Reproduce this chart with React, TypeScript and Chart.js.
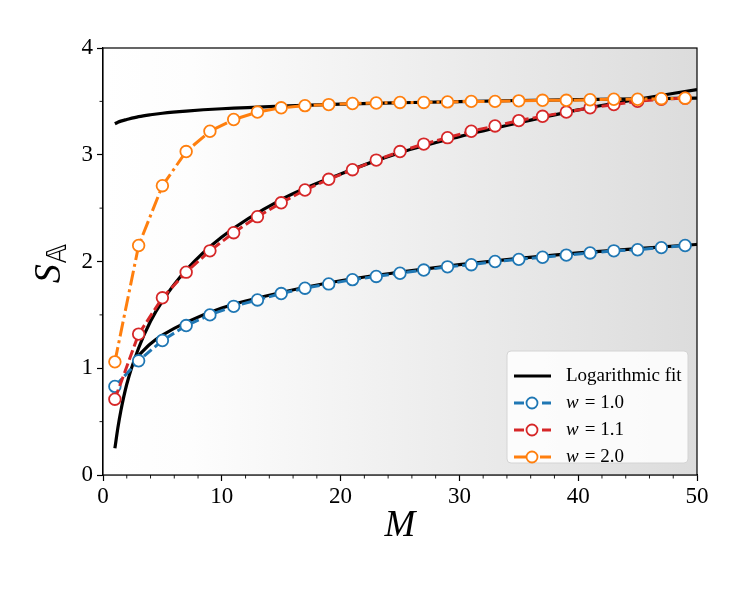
import React, { useEffect, useRef } from "react";
import { Chart, registerables } from "chart.js";

Chart.register(...registerables);

// ---- data ----
const sampleM = [1, 3, 5, 7, 9, 11, 13, 15, 17, 19, 21, 23, 25, 27, 29, 31, 33, 35, 37, 39, 41, 43, 45, 47, 49];
const w10 = [0.83, 1.07, 1.26, 1.4, 1.5, 1.58, 1.64, 1.7, 1.75, 1.79, 1.83, 1.86, 1.89, 1.92, 1.95, 1.97, 2.0, 2.02, 2.04, 2.06, 2.08, 2.1, 2.11, 2.13, 2.15];
const w11 = [0.71, 1.32, 1.66, 1.9, 2.1, 2.27, 2.42, 2.55, 2.67, 2.77, 2.86, 2.95, 3.03, 3.1, 3.16, 3.22, 3.27, 3.32, 3.36, 3.4, 3.44, 3.47, 3.5, 3.52, 3.53];
const w20 = [1.06, 2.15, 2.71, 3.03, 3.22, 3.33, 3.4, 3.44, 3.46, 3.47, 3.48, 3.485, 3.49, 3.49, 3.495, 3.5, 3.5, 3.505, 3.51, 3.51, 3.515, 3.52, 3.52, 3.525, 3.53];

// logarithmic fit curves, read at a few M positions
const fitM = [1, 1.25, 1.5, 2, 3, 4, 5, 7, 10, 15, 20, 25, 30, 35, 40, 45, 50];
const fit11 = [0.25, 0.44, 0.6, 0.85, 1.19, 1.44, 1.63, 1.92, 2.23, 2.58, 2.82, 3.02, 3.17, 3.3, 3.42, 3.52, 3.61];
const fit20 = [3.29, 3.304, 3.315, 3.33, 3.357, 3.375, 3.389, 3.409, 3.431, 3.456, 3.474, 3.487, 3.498, 3.508, 3.516, 3.523, 3.53];
const fit10M = [3, 4, 5, 7, 10, 15, 20, 25, 30, 35, 40, 45, 50];
const fit10 = [1.12, 1.23, 1.31, 1.43, 1.565, 1.71, 1.82, 1.9, 1.97, 2.03, 2.08, 2.12, 2.16];

const xTicks = [0, 10, 20, 30, 40, 50];
const yTicks = [0, 1, 2, 3, 4];
const legendLabels = ["Logarithmic fit", "1.0", "1.1", "2.0"];

const BLUE = "#1f77b4";
const RED = "#d62728";
const ORANGE = "#ff7f0e";
const SERIF = "'Liberation Serif', 'DejaVu Serif', serif";
const DASH = [10, 4];
const DASHDOT = [15, 4, 3, 4];

const pts = (xs: number[], ys: number[]) => xs.map((x, i) => ({ x, y: ys[i] }));

const decorPlugin = {
  id: "decor",
  beforeDatasetsDraw(chart: any) {
    const { ctx, chartArea: a } = chart;
    ctx.save();
    const g = ctx.createLinearGradient(a.left, 0, a.right, 0);
    g.addColorStop(0, "#ffffff");
    g.addColorStop(0.15, "#fdfdfd");
    g.addColorStop(1, "#dcdcdc");
    ctx.fillStyle = g;
    ctx.fillRect(a.left, a.top, a.right - a.left, a.bottom - a.top);
    ctx.restore();
  },
  afterDraw(chart: any) {
    const { ctx, chartArea: a, scales } = chart;
    const xs = scales.x;
    const ys = scales.y;
    ctx.save();
    // frame
    ctx.strokeStyle = "#000";
    ctx.lineWidth = 1.2;
    ctx.strokeRect(a.left, a.top, a.right - a.left, a.bottom - a.top);
    // minor ticks
    ctx.lineWidth = 0.9;
    ctx.beginPath();
    for (let v = 0; v <= 50; v += 2) {
      if (v % 10 === 0) continue;
      const px = xs.getPixelForValue(v);
      ctx.moveTo(px, a.bottom);
      ctx.lineTo(px, a.bottom + 3.5);
    }
    for (let v = 0.5; v < 4; v += 1) {
      const py = ys.getPixelForValue(v);
      ctx.moveTo(a.left, py);
      ctx.lineTo(a.left - 3.5, py);
    }
    ctx.stroke();

    // axis titles
    ctx.fillStyle = "#000";
    ctx.font = `italic 37px ${SERIF}`;
    ctx.textAlign = "center";
    ctx.textBaseline = "middle";
    ctx.fillText("M", (a.left + a.right) / 2, 526);

    ctx.save();
    ctx.translate(48, (a.top + a.bottom) / 2 + 2);
    ctx.rotate(-Math.PI / 2);
    ctx.textAlign = "left";
    ctx.textBaseline = "alphabetic";
    ctx.font = `italic 38px ${SERIF}`;
    const sW = ctx.measureText("S").width;
    const sub = "\u{1D538}";
    ctx.font = `26px 'DejaVu Sans', ${SERIF}`;
    const subW = ctx.measureText(sub).width;
    const total = sW + 1 + subW;
    ctx.font = `italic 38px ${SERIF}`;
    ctx.fillText("S", -total / 2, 12);
    ctx.font = `26px 'DejaVu Sans', ${SERIF}`;
    ctx.fillText(sub, -total / 2 + sW + 1, 18);
    ctx.restore();

    // legend
    const bx = 507, by = 351, bw = 181, bh = 112;
    ctx.beginPath();
    const r = 4;
    ctx.moveTo(bx + r, by);
    ctx.arcTo(bx + bw, by, bx + bw, by + bh, r);
    ctx.arcTo(bx + bw, by + bh, bx, by + bh, r);
    ctx.arcTo(bx, by + bh, bx, by, r);
    ctx.arcTo(bx, by, bx + bw, by, r);
    ctx.closePath();
    ctx.fillStyle = "rgba(255,255,255,0.85)";
    ctx.fill();
    ctx.strokeStyle = "#d4d4d4";
    ctx.lineWidth = 1;
    ctx.stroke();

    const rows = [
      { color: "#000", dash: [] as number[], marker: false, label: legendLabels[0] },
      { color: BLUE, dash: DASH, marker: true, label: legendLabels[1] },
      { color: RED, dash: DASH, marker: true, label: legendLabels[2] },
      { color: ORANGE, dash: DASHDOT, marker: true, label: legendLabels[3] },
    ];
    rows.forEach((row, i) => {
      const y = 376 + i * 27;
      ctx.save();
      ctx.strokeStyle = row.color;
      ctx.lineWidth = 3;
      ctx.setLineDash(row.dash);
      ctx.beginPath();
      ctx.moveTo(514, y);
      ctx.lineTo(551, y);
      ctx.stroke();
      ctx.setLineDash([]);
      if (row.marker) {
        ctx.beginPath();
        ctx.arc(532, y, 5.5, 0, Math.PI * 2);
        ctx.fillStyle = "#fff";
        ctx.fill();
        ctx.lineWidth = 1.8;
        ctx.stroke();
      }
      ctx.fillStyle = "#000";
      ctx.textBaseline = "middle";
      ctx.textAlign = "left";
      if (!row.marker) {
        ctx.font = `19px ${SERIF}`;
        ctx.fillText(row.label, 566, y);
      } else {
        ctx.font = `italic 19px ${SERIF}`;
        ctx.fillText("w", 566, y);
        const ww = ctx.measureText("w").width;
        ctx.font = `19px ${SERIF}`;
        ctx.fillText("= " + row.label, 566 + ww + 6, y);
      }
      ctx.restore();
    });
    ctx.restore();
  },
};

export default function App() {
  const ref = useRef<HTMLCanvasElement | null>(null);
  useEffect(() => {
    if (!ref.current) return;
    const fitStyle = {
      showLine: true,
      borderColor: "#000",
      backgroundColor: "#000",
      borderWidth: 3.2,
      pointRadius: 0,
      pointHoverRadius: 0,
      cubicInterpolationMode: "monotone" as const,
      order: 10,
    };
    const dataStyle = (color: string, dash: number[], order: number) => ({
      showLine: true,
      borderColor: color,
      borderWidth: 3,
      borderDash: dash,
      pointRadius: 5.8,
      pointBorderWidth: 1.8,
      pointBackgroundColor: "#fff",
      pointBorderColor: color,
      order,
    });
    const chart = new Chart(ref.current, {
      type: "scatter",
      data: {
        datasets: [
          { ...fitStyle, label: "fit11", data: pts(fitM, fit11) },
          { ...fitStyle, label: "fit10", data: pts(fit10M, fit10) },
          { ...fitStyle, label: "fit20", data: pts(fitM, fit20) },
          { ...dataStyle(BLUE, DASH, 3), label: "w = 1.0", data: pts(sampleM, w10) },
          { ...dataStyle(RED, DASH, 2), label: "w = 1.1", data: pts(sampleM, w11) },
          { ...dataStyle(ORANGE, DASHDOT, 1), label: "w = 2.0", data: pts(sampleM, w20) },
        ] as any,
      },
      options: {
        responsive: false,
        animation: false,
        events: [],
        layout: { padding: { left: 0, right: 53, top: 48, bottom: 0 } },
        plugins: { legend: { display: false }, tooltip: { enabled: false } },
        scales: {
          x: {
            type: "linear",
            min: 0,
            max: 50,
            afterFit: (s: any) => { s.height = 114; },
            afterBuildTicks: (s: any) => { s.ticks = xTicks.map((v) => ({ value: v })); },
            ticks: { color: "#000", font: { family: SERIF, size: 23 }, padding: 2, maxRotation: 0 },
            grid: { drawOnChartArea: false, drawTicks: true, tickLength: 6, tickColor: "#000", tickWidth: 1.2 },
            border: { color: "#000", width: 1.2 },
          },
          y: {
            type: "linear",
            min: 0,
            max: 4,
            afterFit: (s: any) => { s.width = 103; },
            afterBuildTicks: (s: any) => { s.ticks = yTicks.map((v) => ({ value: v })); },
            ticks: { color: "#000", font: { family: SERIF, size: 23 }, padding: 4 },
            grid: { drawOnChartArea: false, drawTicks: true, tickLength: 6, tickColor: "#000", tickWidth: 1.2 },
            border: { color: "#000", width: 1.2 },
          },
        },
      },
      plugins: [decorPlugin],
    });
    return () => chart.destroy();
  }, []);
  return (
    <div style={{ position: "absolute", left: 0, top: 0, width: 750, height: 589, background: "#fff" }}>
      <canvas ref={ref} width={750} height={589} style={{ width: 750, height: 589, display: "block" }} />
    </div>
  );
}
